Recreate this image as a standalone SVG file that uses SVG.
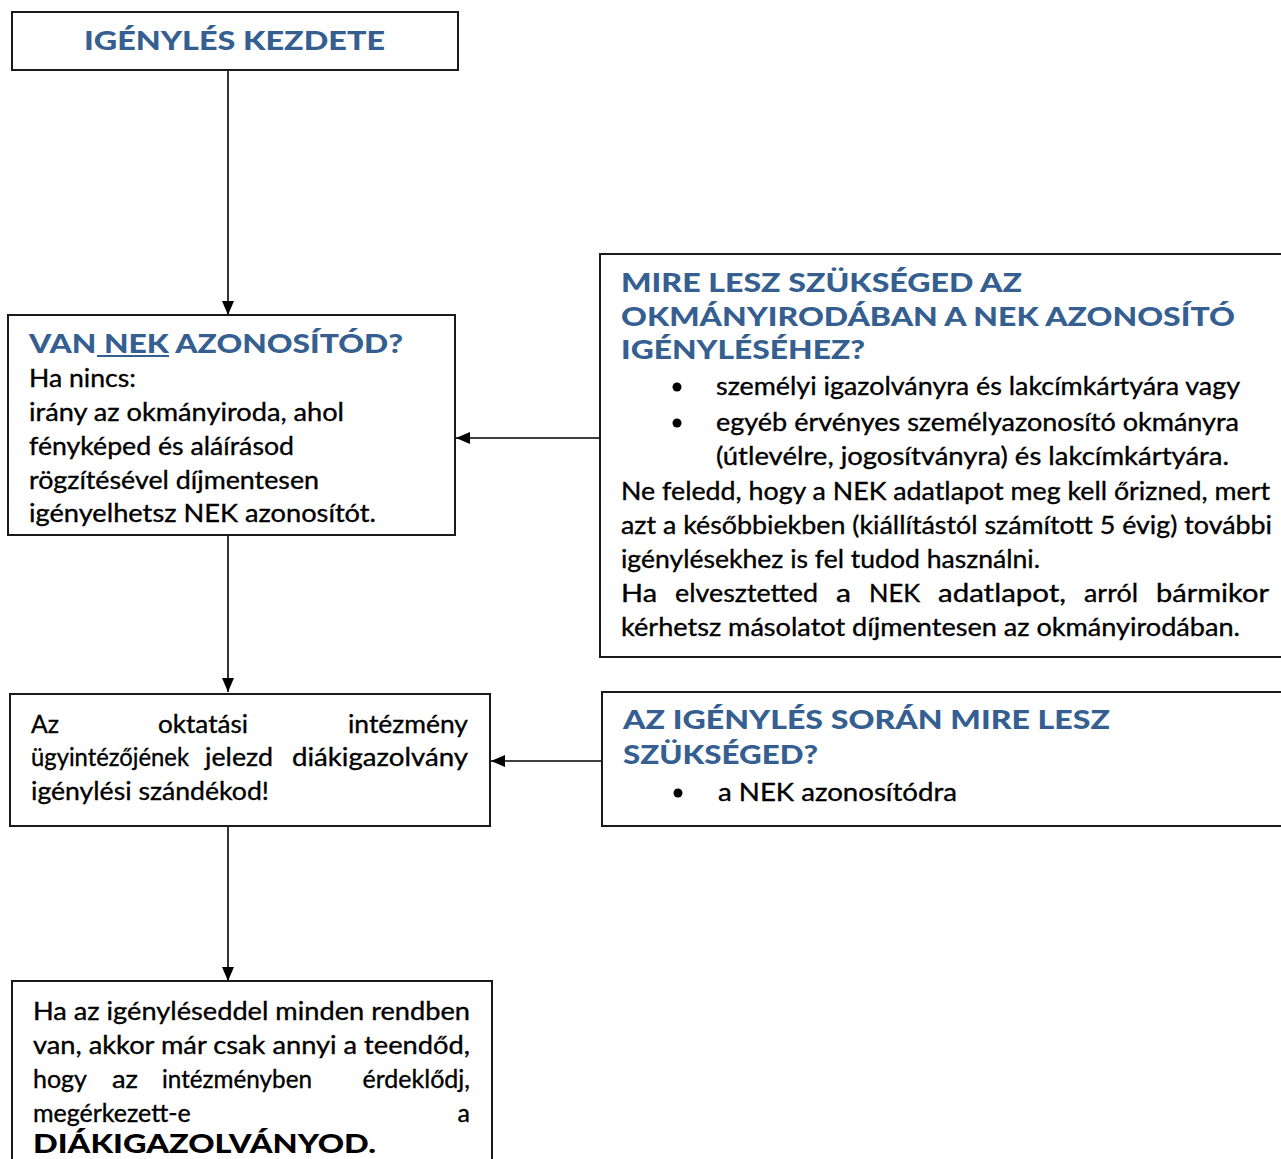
<svg xmlns="http://www.w3.org/2000/svg" width="1281" height="1159" viewBox="0 0 1281 1159">
<style>
.box{fill:#fff;stroke:#1a1a1a;stroke-width:2}
.t{font-family:Lato,"Open Sans","Liberation Sans",sans-serif;font-size:25px;fill:#000;stroke:#000;stroke-width:0.35}
.h{font-family:Lato,"Open Sans","Liberation Sans",sans-serif;font-size:26px;font-weight:900;fill:#365f91}
.b{font-family:Lato,"Open Sans","Liberation Sans",sans-serif;font-size:26px;font-weight:900;fill:#000}
.c{stroke:#000;stroke-width:1.6;fill:none;marker-end:url(#ah)}
</style>
<defs>
<marker id="ah" markerUnits="userSpaceOnUse" markerWidth="14" markerHeight="12" refX="14" refY="6" orient="auto">
<path d="M0,0 L14,6 L0,12 Z" fill="#000"/>
</marker>
<clipPath id="c2"><rect x="8" y="315" width="448" height="212"/></clipPath>
</defs>
<rect width="1281" height="1159" fill="#fff"/>
<g id="connectors">
<line class="c" x1="228" y1="70" x2="228" y2="315"/>
<line class="c" x1="228" y1="535" x2="228" y2="692"/>
<line class="c" x1="228" y1="826" x2="228" y2="981"/>
<line class="c" x1="600" y1="438" x2="456" y2="438"/>
<line class="c" x1="608" y1="761" x2="491" y2="761"/>
</g>
<g id="start">
<rect class="box" x="12" y="12" width="446" height="58"/>
<text class="h" x="84" y="50" textLength="301" lengthAdjust="spacingAndGlyphs">IGÉNYLÉS KEZDETE</text>
</g>
<g id="nek">
<rect class="box" x="8" y="315" width="447" height="220"/>
<text class="h" x="29" y="353" textLength="374" lengthAdjust="spacingAndGlyphs">VAN NEK AZONOSÍTÓD?</text>
<line x1="97" y1="356" x2="169" y2="356" stroke="#365f91" stroke-width="2"/>
<g clip-path="url(#c2)">
<text class="t" x="29" y="387" textLength="107" lengthAdjust="spacingAndGlyphs">Ha nincs:</text>
<text class="t" x="29" y="421" textLength="315" lengthAdjust="spacingAndGlyphs">irány az okmányiroda, ahol</text>
<text class="t" x="29" y="455" textLength="265" lengthAdjust="spacingAndGlyphs">fényképed és aláírásod</text>
<text class="t" x="29" y="489" textLength="290" lengthAdjust="spacingAndGlyphs">rögzítésével díjmentesen</text>
<text class="t" x="29" y="522" textLength="347" lengthAdjust="spacingAndGlyphs">igényelhetsz NEK azonosítót.</text>
</g>
</g>
<g id="okmany">
<rect class="box" x="600" y="254" width="690" height="403"/>
<text class="h" x="621" y="292" textLength="401" lengthAdjust="spacingAndGlyphs">MIRE LESZ SZÜKSÉGED AZ</text>
<text class="h" x="621" y="326" textLength="614" lengthAdjust="spacingAndGlyphs">OKMÁNYIRODÁBAN A NEK AZONOSÍTÓ</text>
<text class="h" x="621" y="359" textLength="244" lengthAdjust="spacingAndGlyphs">IGÉNYLÉSÉHEZ?</text>
<circle cx="677" cy="387" r="4.5" fill="#000"/>
<text class="t" x="716" y="395" textLength="524" lengthAdjust="spacingAndGlyphs">személyi igazolványra és lakcímkártyára vagy</text>
<circle cx="677" cy="423" r="4.5" fill="#000"/>
<text class="t" x="716" y="431" textLength="523" lengthAdjust="spacingAndGlyphs">egyéb érvényes személyazonosító okmányra</text>
<text class="t" x="716" y="465" textLength="513" lengthAdjust="spacingAndGlyphs">(útlevélre, jogosítványra) és lakcímkártyára.</text>
<text class="t" x="621" y="500" textLength="649" lengthAdjust="spacingAndGlyphs">Ne feledd, hogy a NEK adatlapot meg kell őrizned, mert</text>
<text class="t" x="621" y="534" textLength="651" lengthAdjust="spacingAndGlyphs">azt a későbbiekben (kiállítástól számított 5 évig) további</text>
<text class="t" x="621" y="568" textLength="419" lengthAdjust="spacingAndGlyphs">igénylésekhez is fel tudod használni.</text>
<text class="t" x="621" y="602" textLength="36" lengthAdjust="spacingAndGlyphs">Ha</text>
<text class="t" x="675" y="602" textLength="143" lengthAdjust="spacingAndGlyphs">elvesztetted</text>
<text class="t" x="836" y="602" textLength="15" lengthAdjust="spacingAndGlyphs">a</text>
<text class="t" x="869" y="602" textLength="51" lengthAdjust="spacingAndGlyphs">NEK</text>
<text class="t" x="938" y="602" textLength="128" lengthAdjust="spacingAndGlyphs">adatlapot,</text>
<text class="t" x="1084" y="602" textLength="54" lengthAdjust="spacingAndGlyphs">arról</text>
<text class="t" x="1156" y="602" textLength="113" lengthAdjust="spacingAndGlyphs">bármikor</text>
<text class="t" x="621" y="636" textLength="619" lengthAdjust="spacingAndGlyphs">kérhetsz másolatot díjmentesen az okmányirodában.</text>
</g>
<g id="jelezd">
<rect class="box" x="10" y="694" width="480" height="132"/>
<text class="t" x="31" y="733" textLength="28" lengthAdjust="spacingAndGlyphs">Az</text>
<text class="t" x="158" y="733" textLength="90" lengthAdjust="spacingAndGlyphs">oktatási</text>
<text class="t" x="348" y="733" textLength="120" lengthAdjust="spacingAndGlyphs">intézmény</text>
<text class="t" x="31" y="766" textLength="158" lengthAdjust="spacingAndGlyphs">ügyintézőjének</text>
<text class="t" x="205" y="766" textLength="68" lengthAdjust="spacingAndGlyphs">jelezd</text>
<text class="t" x="292" y="766" textLength="176" lengthAdjust="spacingAndGlyphs">diákigazolvány</text>
<text class="t" x="31" y="800" textLength="238" lengthAdjust="spacingAndGlyphs">igénylési szándékod!</text>
</g>
<g id="szukseged">
<rect class="box" x="602" y="692" width="690" height="134"/>
<text class="h" x="623" y="729" textLength="487" lengthAdjust="spacingAndGlyphs">AZ IGÉNYLÉS SORÁN MIRE LESZ</text>
<text class="h" x="623" y="764" textLength="195" lengthAdjust="spacingAndGlyphs">SZÜKSÉGED?</text>
<circle cx="678" cy="793" r="4.5" fill="#000"/>
<text class="t" x="718" y="801" textLength="239" lengthAdjust="spacingAndGlyphs">a NEK azonosítódra</text>
</g>
<g id="vege">
<rect class="box" x="12" y="981" width="480" height="190"/>
<text class="t" x="33" y="1020" textLength="437" lengthAdjust="spacingAndGlyphs">Ha az igényléseddel minden rendben</text>
<text class="t" x="33" y="1054" textLength="437" lengthAdjust="spacingAndGlyphs">van, akkor már csak annyi a teendőd,</text>
<text class="t" x="33" y="1088" textLength="54" lengthAdjust="spacingAndGlyphs">hogy</text>
<text class="t" x="112" y="1088" textLength="26" lengthAdjust="spacingAndGlyphs">az</text>
<text class="t" x="162" y="1088" textLength="150" lengthAdjust="spacingAndGlyphs">intézményben</text>
<text class="t" x="470" y="1088" text-anchor="end">érdeklődj,</text>
<text class="t" x="33" y="1122">megérkezett-e</text>
<text class="t" x="470" y="1122" text-anchor="end">a</text>
<text class="b" x="33" y="1153" textLength="343" lengthAdjust="spacingAndGlyphs">DIÁKIGAZOLVÁNYOD.</text>
</g>
</svg>
